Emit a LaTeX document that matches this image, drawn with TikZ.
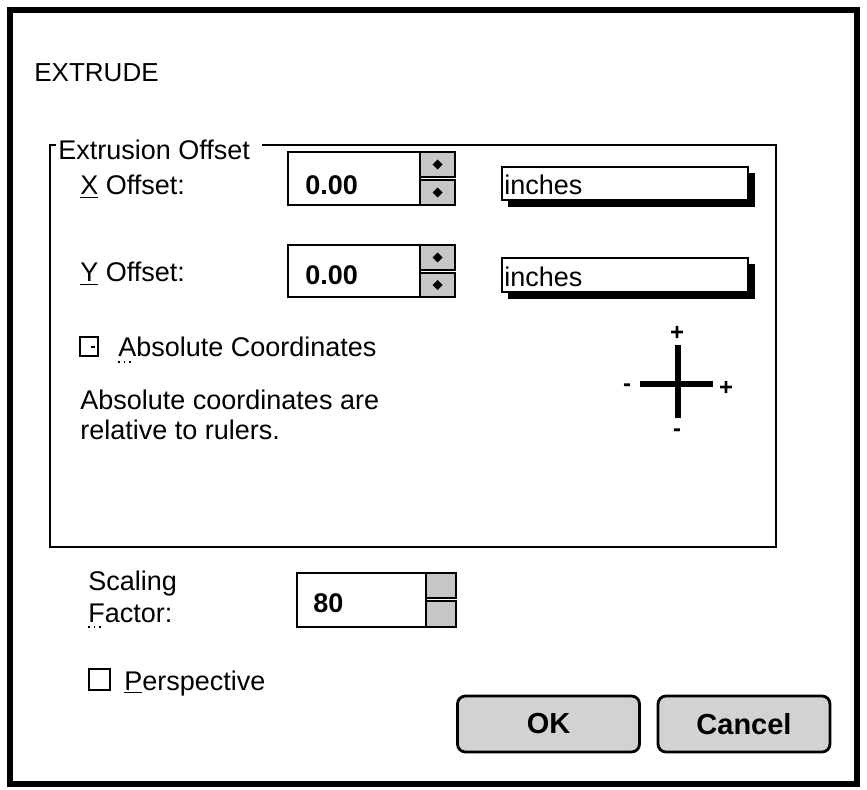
\documentclass[tikz,border=0pt]{standalone}
\usepackage{fontspec}
\setmainfont{Liberation Sans}
\usetikzlibrary{positioning}
\tikzset{
	lbl/.style={anchor=base west, inner sep=0pt, font=\fontsize{13.5}{16}\selectfont},
	numtext/.style={lbl, font=\fontsize{13.5}{16}\selectfont\bfseries},
	fieldbox/.style={draw, line width=1pt, fill=white},
	spinhalf/.style={draw, line width=1pt, fill=gray!45},
	btn/.style={draw, line width=1.4pt, rounded corners=4, fill=gray!35, font=\fontsize{14.5}{17}\selectfont\bfseries},
	signtext/.style={font=\bfseries\fontsize{12}{14}\selectfont, inner sep=0pt},
	tick/.style={line width=2.6pt}
}
\newcommand{\spinarrow}[1]{\fill #1 ++(0,-5) -- ++(5,5) -- ++(-5,5) -- ++(-5,-5) -- cycle;}
\begin{document}
\begin{tikzpicture}[x=0.5pt, y=-0.5pt]
	\useasboundingbox (0,0) rectangle (867,790);
	% dialog frame
	\draw[line width=3pt] (10,10) rectangle (857,784);
	\node[lbl, font=\fontsize{13}{16}\selectfont] (title) at (34,82) {EXTRUDE};

	% group box
	\node[lbl] (group) at (58,160) {Extrusion Offset};
	\draw[line width=0.9pt] (56,145) -- (50,145) -- (50,547) -- (776,547) -- (776,145) -- (262,145);

	% X offset row
	\node[lbl] (xlbl) at (80,195) {\underline{X} Offset:};
	\draw[fieldbox] (288,152) rectangle (420,205);
	\node[numtext] (xval) at (305,195) {0.00};
	\draw[spinhalf] (420,152) rectangle (455,177);
	\draw[spinhalf] (420,180) rectangle (455,205);
	\spinarrow{(437.5,164.5)}
	\spinarrow{(437.5,192.5)}
	\fill (508,173) rectangle (755,207);
	\draw[fieldbox] (502,167) rectangle (748,200);
	\node[lbl] (xunit) at (504,195) {inches};

	% Y offset row
	\node[lbl] (ylbl) at (80,282) {\underline{Y} Offset:};
	\draw[fieldbox] (288,245) rectangle (420,297);
	\node[numtext] (yval) at (305,285) {0.00};
	\draw[spinhalf] (420,245) rectangle (455,270);
	\draw[spinhalf] (420,273) rectangle (455,297);
	\spinarrow{(437.5,257.5)}
	\spinarrow{(437.5,285)}
	\fill (508,264) rectangle (755,299);
	\draw[fieldbox] (502,258) rectangle (748,292);
	\node[lbl] (yunit) at (504,287) {inches};

	% absolute coordinates
	\draw[line width=1pt] (80,337) rectangle (98,356);
	\draw[line width=1pt] (91,347) -- (95,347);
	\node[lbl] (abs) at (118,357) {Absolute Coordinates};
	\draw[dotted, line width=0.8pt] ([yshift=-2.5pt]abs.base west) -- ++(16,0);
	\node[lbl] (note1) at (80,410) {Absolute coordinates are};
	\node[lbl] (note2) at (80,440) {relative to rulers.};

	% axis cross
	\coordinate (origin) at (678,384);
	\draw[tick] (678,345) -- (678,418);
	\draw[tick] (640,384) -- (713,384);
	\node[signtext] (ytop) at (677,333) {+};
	\node[signtext] (xleft) at (627,388) {-};
	\node[signtext] (xright) at (726,388) {+};
	\node[signtext] (ybot) at (677,433) {-};

	% scaling factor
	\node[lbl] (scal) at (88,590) {Scaling};
	\node[lbl] (fact) at (88,622) {Factor:};
	\draw[dotted, line width=0.8pt] ([yshift=-2.5pt]fact.base west) -- ++(16,0);
	\draw[fieldbox] (297,573) rectangle (426,627);
	\node[numtext] (sval) at (313,612) {80};
	\draw[spinhalf] (426,573) rectangle (456,598);
	\draw[spinhalf] (426,601) rectangle (456,627);

	% perspective
	\draw[line width=1pt] (89,669) rectangle (110,690);
	\node[lbl] (persp) at (124,690) {\underline{P}erspective};

	% buttons
	\node[btn, minimum width=91pt, minimum height=28pt] (ok) at (548.5,724) {OK};
	\node[btn, minimum width=86pt, minimum height=28pt] (cancel) at (744,724) {Cancel};
\end{tikzpicture}
\end{document}
